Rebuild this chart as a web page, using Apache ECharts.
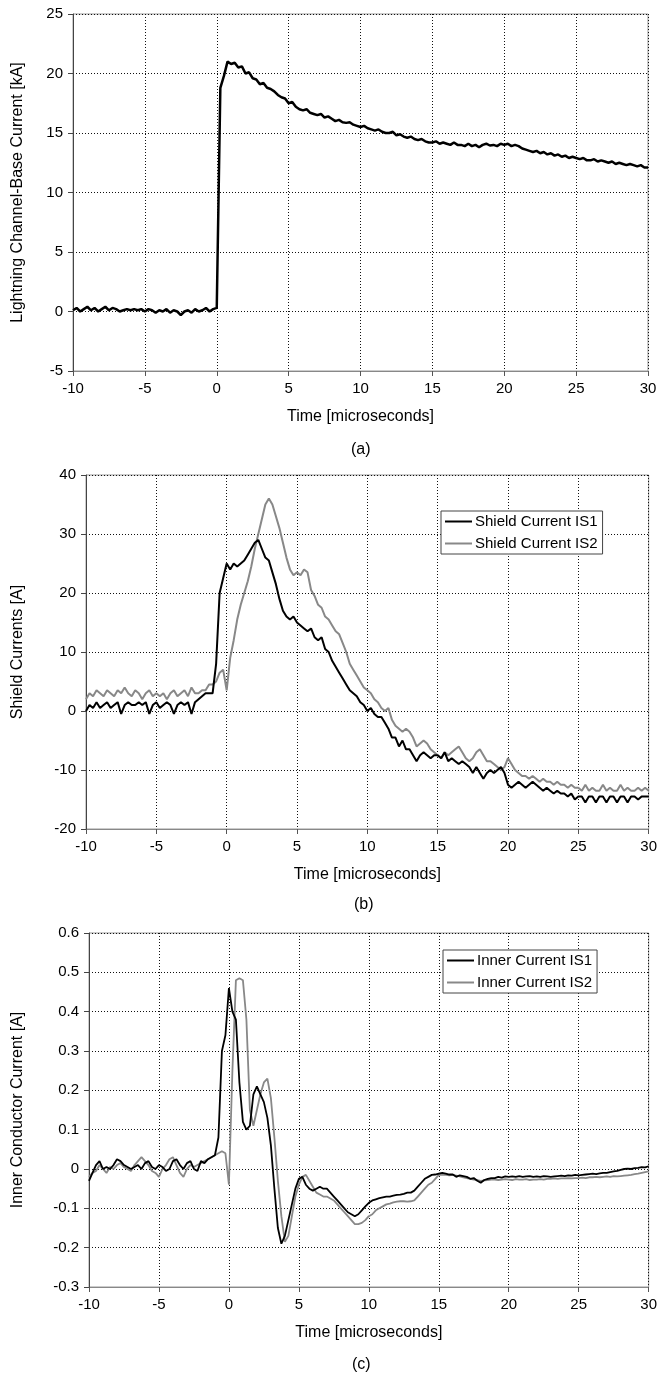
<!DOCTYPE html>
<html>
<head>
<meta charset="utf-8">
<script src="https://cdn.jsdelivr.net/npm/echarts@6/dist/echarts.min.js"></script>
<style>
  html, body { margin: 0; padding: 0; background: #fff; }
  #chart { width: 660px; height: 1378px; }
</style>
</head>
<body>
<div id="chart"></div>
<script>
// sample times [microseconds], every 0.25 us
const time = [
  -10, -9.75, -9.5, -9.25, -9, -8.75, -8.5, -8.25, -8, -7.75, -7.5, -7.25,
  -7, -6.75, -6.5, -6.25, -6, -5.75, -5.5, -5.25, -5, -4.75, -4.5, -4.25,
  -4, -3.75, -3.5, -3.25, -3, -2.75, -2.5, -2.25, -2, -1.75, -1.5, -1.25,
  -1, -0.75, -0.5, -0.25, 0, 0.25, 0.5, 0.75, 1, 1.25, 1.5, 1.75,
  2, 2.25, 2.5, 2.75, 3, 3.25, 3.5, 3.75, 4, 4.25, 4.5, 4.75,
  5, 5.25, 5.5, 5.75, 6, 6.25, 6.5, 6.75, 7, 7.25, 7.5, 7.75,
  8, 8.25, 8.5, 8.75, 9, 9.25, 9.5, 9.75, 10, 10.25, 10.5, 10.75,
  11, 11.25, 11.5, 11.75, 12, 12.25, 12.5, 12.75, 13, 13.25, 13.5, 13.75,
  14, 14.25, 14.5, 14.75, 15, 15.25, 15.5, 15.75, 16, 16.25, 16.5, 16.75,
  17, 17.25, 17.5, 17.75, 18, 18.25, 18.5, 18.75, 19, 19.25, 19.5, 19.75,
  20, 20.25, 20.5, 20.75, 21, 21.25, 21.5, 21.75, 22, 22.25, 22.5, 22.75,
  23, 23.25, 23.5, 23.75, 24, 24.25, 24.5, 24.75, 25, 25.25, 25.5, 25.75,
  26, 26.25, 26.5, 26.75, 27, 27.25, 27.5, 27.75, 28, 28.25, 28.5, 28.75,
  29, 29.25, 29.5, 29.75, 30
]
const timeTicks = [-10, -5, 0, 5, 10, 15, 20, 25, 30]

// (a) lightning channel-base current [kA]
const channelBase = [
  0.1, 0.3, 0.0, 0.2, 0.4, 0.1, 0.3, 0.0, 0.2, 0.4, 0.1, 0.3,
  0.2, 0.0, 0.1, 0.2, 0.1, 0.2, 0.1, 0.2, 0.0, 0.2, 0.1, -0.1,
  0.1, 0.0, 0.2, -0.1, 0.1, 0.0, -0.3, 0.0, 0.1, -0.1, 0.2, 0.0,
  0.1, 0.3, 0.0, 0.2,
  0.3, 18.8, 19.8, 21.0, 20.8, 20.9, 20.5, 20.6, 20.0, 20.1, 19.6, 19.5,
  19.1, 19.2, 18.8, 18.7, 18.5, 18.2, 18.0, 17.9, 17.5, 17.6, 17.2, 17.0,
  16.9, 17.0, 16.7, 16.6, 16.5, 16.6, 16.3, 16.4, 16.2, 16.0, 16.1, 15.9,
  15.85, 15.9, 15.7, 15.6, 15.5, 15.6, 15.4, 15.3, 15.2, 15.3, 15.1, 15.0,
  15.0, 15.1, 14.8, 14.9, 14.7, 14.6, 14.7, 14.5, 14.4, 14.5, 14.3, 14.2,
  14.2, 14.3, 14.1, 14.2, 14.1, 14.0, 14.2, 14.0, 14.0, 13.9, 14.1, 13.9,
  14.0, 13.8, 14.0, 14.1, 13.95, 14.0, 13.9, 14.1, 14.0, 14.1, 13.9, 14.0,
  13.9, 13.7, 13.6, 13.5, 13.4, 13.5, 13.3, 13.4, 13.2, 13.3, 13.1, 13.2,
  13.0, 13.1, 12.9, 13.0, 12.9, 12.8, 12.9, 12.7, 12.7, 12.8, 12.6, 12.7,
  12.6, 12.5, 12.6, 12.4, 12.5, 12.4, 12.3, 12.4, 12.3, 12.2, 12.3, 12.1,
  12.1
]

// (b) shield currents [A]
const shieldIS1 = [
  0.0, 1.0, 0.5, 1.5, 0.5, 1.0, 1.5, 0.5, 1.0, 1.5, -0.5, 1.0,
  1.5, 1.0, 1.0, 1.5, 1.0, 1.5, -0.5, 1.0, 1.5, 0.5, 1.0, 1.5,
  1.0, -0.5, 1.0, 1.5, 1.0, 1.5, -0.5, 1.5, 2.0, 2.5, 3.0, 3.0,
  3.0, 8.0, 20.0, 22.5,
  25.0, 24.0, 25.0, 24.5, 25.0, 25.5, 26.5, 27.5, 28.5, 29.0, 27.5, 26.0,
  25.5, 23.5, 21.5, 19.0, 17.0, 16.0, 15.5, 16.0, 15.0, 14.5, 14.0, 13.5,
  14.0, 12.5, 12.0, 12.5, 10.5, 10.0, 8.5, 7.5, 6.5, 5.5, 4.5, 3.5,
  3.0, 2.5, 1.5, 1.0, 0.0, 0.5, -0.5, -1.0, -1.0, -2.0, -3.0, -4.5,
  -4.5, -6.0, -5.0, -6.5, -6.5, -7.5, -8.5, -7.5, -7.0, -7.5, -8.0, -7.5,
  -7.5, -8.0, -7.0, -8.5, -8.0, -8.5, -9.0, -8.5, -9.0, -9.5, -10.5, -9.5,
  -10.5, -11.5, -10.5, -10.0, -10.5, -10.0, -9.5, -10.5, -12.5, -13.0, -12.5, -12.0,
  -12.5, -13.0, -12.5, -12.0, -12.5, -13.0, -13.5, -13.0, -13.5, -14.0, -13.5, -14.0,
  -14.0, -14.5, -14.0, -15.0, -14.5, -14.5, -15.5, -14.5, -14.5, -15.5, -14.5, -14.5,
  -15.5, -14.5, -14.5, -15.5, -14.5, -14.5, -15.5, -14.5, -14.5, -15.0, -14.5, -14.5,
  -14.5
]
const shieldIS2 = [
  2.0, 3.0, 2.5, 3.5, 3.0, 2.5, 3.5, 3.0, 2.5, 3.5, 3.0, 4.0,
  3.0, 2.5, 3.5, 3.0, 2.0, 3.0, 3.5, 2.5, 3.0, 2.5, 3.0, 2.0,
  3.0, 3.5, 2.5, 3.0, 3.5, 2.5, 4.0, 3.0, 3.0, 3.5, 3.5, 4.5,
  4.5, 5.0, 6.5, 7.0,
  3.5, 9.0, 12.0, 15.5, 18.0, 20.0, 22.0, 24.5, 27.5, 30.0, 32.5, 35.0,
  36.0, 35.0, 33.0, 31.0, 28.5, 26.0, 24.0, 23.0, 23.5, 23.0, 24.0, 23.5,
  20.5, 19.5, 18.0, 17.5, 16.0, 15.5, 14.5, 13.5, 13.0, 11.5, 10.0, 8.0,
  7.0, 6.0, 5.0, 4.0, 3.5, 3.0, 2.0, 1.5, 0.5, 0.0, 0.5, -1.5,
  -2.5, -3.0, -3.5, -3.0, -3.5, -4.5, -6.0, -5.5, -5.0, -5.5, -6.5, -7.0,
  -7.5, -8.0, -7.0, -7.5, -7.0, -6.5, -6.0, -7.0, -8.0, -8.5, -8.0, -7.0,
  -6.5, -7.5, -8.5, -8.5, -9.0, -9.5, -10.0, -9.5, -8.0, -9.0, -10.0, -10.5,
  -11.0, -11.0, -11.5, -11.0, -11.5, -12.0, -11.5, -12.0, -12.0, -12.5, -12.0, -12.5,
  -12.5, -13.0, -12.5, -13.0, -13.0, -13.5, -12.5, -13.5, -13.0, -13.5, -13.5, -12.5,
  -13.5, -13.0, -13.5, -13.5, -12.5, -13.5, -13.0, -13.5, -13.5, -13.0, -13.5, -13.0,
  -13.5
]

// (c) inner conductor currents [A]
const innerIS1 = [
  -0.03, -0.01, 0.01, 0.02, 0.0, 0.005, 0.0, 0.01, 0.025, 0.02, 0.01, 0.005,
  0.0, 0.005, 0.01, 0.0, 0.015, 0.02, 0.005, 0.0, 0.01, 0.005, -0.005, 0.0,
  0.02, 0.025, 0.01, 0.0, 0.015, 0.02, 0.0, -0.005, 0.02, 0.015, 0.025, 0.03,
  0.035, 0.08, 0.30, 0.34,
  0.46, 0.40, 0.38, 0.22, 0.12, 0.10, 0.11, 0.19, 0.21, 0.19, 0.17, 0.13,
  0.06, -0.05, -0.15, -0.19, -0.17, -0.13, -0.09, -0.05, -0.025, -0.02, -0.04, -0.05,
  -0.055, -0.05, -0.045, -0.05, -0.05, -0.06, -0.07, -0.08, -0.09, -0.10, -0.11, -0.115,
  -0.12, -0.115, -0.105, -0.095, -0.086, -0.08, -0.077, -0.074, -0.072, -0.07, -0.07, -0.068,
  -0.066, -0.065, -0.063, -0.06, -0.06, -0.055, -0.045, -0.035, -0.025, -0.02, -0.015, -0.014,
  -0.012, -0.01, -0.012, -0.014, -0.014, -0.02, -0.016, -0.018, -0.02, -0.025, -0.023, -0.03,
  -0.035, -0.028, -0.025, -0.023, -0.023, -0.02, -0.022, -0.019, -0.02, -0.019, -0.02, -0.018,
  -0.02, -0.019, -0.018, -0.02, -0.019, -0.02, -0.018, -0.019, -0.02, -0.019, -0.018, -0.017,
  -0.018, -0.016, -0.017, -0.015, -0.016, -0.015, -0.014, -0.013, -0.012, -0.013, -0.011, -0.01,
  -0.01, -0.008, -0.006, -0.005, -0.002, 0.0, 0.001, 0.0, 0.002, 0.003, 0.005, 0.004,
  0.007
]
const innerIS2 = [
  -0.02, -0.01, -0.005, 0.01, 0.0, -0.01, 0.005, 0.0, 0.01, 0.015, 0.005, 0.0,
  -0.005, 0.01, 0.02, 0.03, 0.02, 0.01, -0.005, -0.01, -0.02, 0.0, 0.01, 0.025,
  0.03, 0.01, -0.01, -0.02, 0.0, 0.01, 0.005, 0.01, 0.015, 0.02, 0.025, 0.03,
  0.035, 0.04, 0.045, 0.04,
  -0.04, 0.25, 0.48, 0.485, 0.48, 0.38, 0.15, 0.11, 0.15, 0.19, 0.22, 0.23,
  0.18, 0.08, -0.03, -0.12, -0.185, -0.17, -0.12, -0.07, -0.04, -0.02, -0.015, -0.03,
  -0.045, -0.06, -0.065, -0.07, -0.07, -0.075, -0.08, -0.09, -0.10, -0.11, -0.12, -0.13,
  -0.14, -0.14, -0.137, -0.13, -0.12, -0.115, -0.105, -0.10, -0.095, -0.09, -0.088, -0.085,
  -0.083, -0.082, -0.082, -0.083, -0.082, -0.08, -0.07, -0.06, -0.05, -0.04, -0.035, -0.025,
  -0.015, -0.014, -0.015, -0.016, -0.015, -0.017, -0.019, -0.021, -0.023, -0.025, -0.027, -0.028,
  -0.03, -0.029, -0.028, -0.027, -0.027, -0.028, -0.027, -0.026, -0.027, -0.028, -0.026, -0.027,
  -0.027, -0.026, -0.028, -0.027, -0.027, -0.026, -0.027, -0.025, -0.025, -0.024, -0.025, -0.024,
  -0.024, -0.023, -0.024, -0.023, -0.023, -0.022, -0.023, -0.021, -0.021, -0.02, -0.021, -0.02,
  -0.019, -0.02, -0.018, -0.019, -0.018, -0.017, -0.016, -0.015, -0.013, -0.012, -0.01, -0.008,
  -0.006
]

const FONT = '"Liberation Sans", Arial, sans-serif'

function pairs(ys) {
  return time.map((t, i) => [t, ys[i]])
}

function xAxisFor(grid) {
  return {
    type: 'value',
    gridIndex: grid,
    min: timeTicks[0],
    max: timeTicks[timeTicks.length - 1],
    interval: 5,
    name: 'Time [microseconds]',
    nameLocation: 'middle',
    nameGap: 38,
    nameTextStyle: { color: '#000', fontSize: 16, fontFamily: FONT },
    axisLine: { onZero: false, lineStyle: { color: '#888', width: 1 } },
    axisTick: { length: 5, lineStyle: { color: '#555' } },
    axisLabel: { color: '#000', fontSize: 15, fontFamily: FONT, margin: 10 },
    splitLine: { show: true, lineStyle: { color: '#111', type: [1, 2], width: 1 } }
  }
}

function yAxisFor(grid, min, max, step, title, gap, fmt) {
  return {
    type: 'value',
    gridIndex: grid,
    min: min,
    max: max,
    interval: step,
    name: title,
    nameLocation: 'middle',
    nameGap: gap,
    nameTextStyle: { color: '#000', fontSize: 16, fontFamily: FONT },
    axisLine: { show: true, onZero: false, lineStyle: { color: '#444', width: 1 } },
    axisTick: { show: true, length: 5, lineStyle: { color: '#444' } },
    axisLabel: { color: '#000', fontSize: 15, fontFamily: FONT, margin: 10, formatter: fmt },
    splitLine: { show: true, lineStyle: { color: '#111', type: [1, 2], width: 1 } }
  }
}

function legendFor(names, left, top) {
  return {
    data: names.map(n => ({ name: n, icon: 'inherit' })),
    orient: 'vertical',
    left: left,
    top: top,
    padding: [3, 5, 3, 3],
    itemGap: 7,
    itemWidth: 27,
    itemHeight: 15,
    itemStyle: { opacity: 0 },
    backgroundColor: '#fff',
    borderColor: '#444',
    borderWidth: 1,
    borderRadius: 0,
    textStyle: { color: '#000', fontSize: 15, fontFamily: FONT, padding: [0, 0, 0, -2] }
  }
}

let chart = echarts.init(document.getElementById('chart'), null, { renderer: 'canvas' })

chart.setOption({
  animation: false,
  backgroundColor: '#fff',
  textStyle: { fontFamily: FONT },
  grid: [
    { left: 73, top: 14, width: 575, height: 357, show: true, borderColor: '#999', borderWidth: 1 },
    { left: 86, top: 475, width: 567, height: 354, show: true, borderColor: '#999', borderWidth: 1 },
    { left: 89, top: 933, width: 564, height: 354, show: true, borderColor: '#999', borderWidth: 1 }
  ],
  xAxis: [xAxisFor(0), xAxisFor(1), xAxisFor(2)],
  yAxis: [
    yAxisFor(0, -5, 25, 5, 'Lightning Channel-Base Current [kA]', 47),
    yAxisFor(1, -20, 40, 10, 'Shield Currents [A]', 60),
    yAxisFor(2, -0.3, 0.6, 0.1, 'Inner Conductor Current [A]', 63, function (v) {
      return String(Math.round(v * 10) / 10)
    })
  ],
  legend: [
    legendFor(['Shield Current IS1', 'Shield Current IS2'], 441, 511),
    legendFor(['Inner Current IS1', 'Inner Current IS2'], 443, 950)
  ],
  graphic: [
    { type: 'text', left: 351, top: 442, style: { text: '(a)', fontSize: 16, fontFamily: FONT, fill: '#000' } },
    { type: 'text', left: 354, top: 897, style: { text: '(b)', fontSize: 16, fontFamily: FONT, fill: '#000' } },
    { type: 'text', left: 352, top: 1357, style: { text: '(c)', fontSize: 16, fontFamily: FONT, fill: '#000' } }
  ],
  series: [
    {
      name: 'Channel-Base Current',
      type: 'line',
      xAxisIndex: 0,
      yAxisIndex: 0,
      symbol: 'none',
      data: pairs(channelBase),
      lineStyle: { color: '#000', width: 2.5 },
      itemStyle: { color: '#000' }
    },
    {
      name: 'Shield Current IS1',
      type: 'line',
      xAxisIndex: 1,
      yAxisIndex: 1,
      symbol: 'none',
      data: pairs(shieldIS1),
      lineStyle: { color: '#000', width: 2 },
      itemStyle: { color: '#000' },
      z: 3
    },
    {
      name: 'Shield Current IS2',
      type: 'line',
      xAxisIndex: 1,
      yAxisIndex: 1,
      symbol: 'none',
      data: pairs(shieldIS2),
      lineStyle: { color: '#888', width: 2 },
      itemStyle: { color: '#888' },
      z: 2
    },
    {
      name: 'Inner Current IS1',
      type: 'line',
      xAxisIndex: 2,
      yAxisIndex: 2,
      symbol: 'none',
      data: pairs(innerIS1),
      lineStyle: { color: '#000', width: 1.8 },
      itemStyle: { color: '#000' },
      z: 3
    },
    {
      name: 'Inner Current IS2',
      type: 'line',
      xAxisIndex: 2,
      yAxisIndex: 2,
      symbol: 'none',
      data: pairs(innerIS2),
      lineStyle: { color: '#888', width: 1.8 },
      itemStyle: { color: '#888' },
      z: 2
    }
  ]
})
</script>
</body>
</html>
